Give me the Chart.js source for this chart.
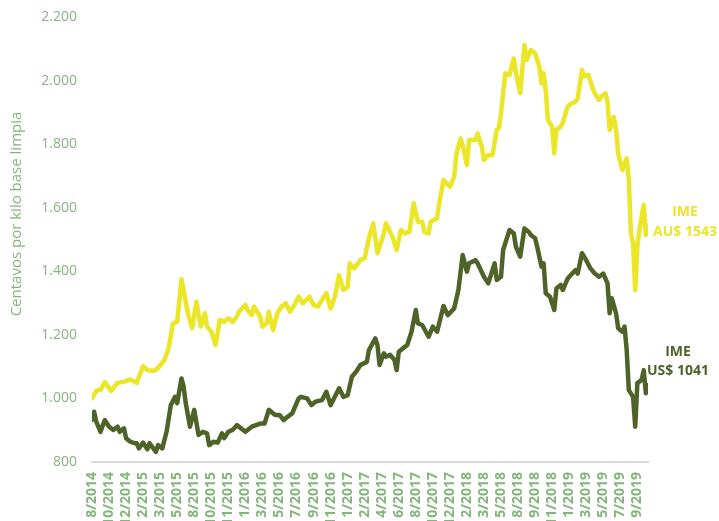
<!DOCTYPE html>
<html>
<head>
<meta charset="utf-8">
<script src="https://cdn.jsdelivr.net/npm/chart.js@4.4.0/dist/chart.umd.min.js"></script>
<style>
  html, body { margin: 0; padding: 0; background: #fff; overflow: hidden; }
</style>
</head>
<body>
<canvas id="ime-chart" width="719" height="521"></canvas>
<script>
// tick labels, one every 8 sale weeks
const tickLabels = ['8/2014', '10/2014', '12/2014', '2/2015', '3/2015', '5/2015', '8/2015', '10/2015',
  '11/2015', '1/2016', '3/2016', '5/2016', '7/2016', '9/2016', '11/2016', '1/2017', '2/2017',
  '4/2017', '6/2017', '8/2017', '10/2017', '12/2017', '2/2018', '3/2018', '5/2018', '8/2018',
  '9/2018', '11/2018', '1/2019', '3/2019', '5/2019', '7/2019', '9/2019'];

// IME in AU cents (week index / value)
const auWeek = [0, 2, 4, 6, 9, 12, 15, 18, 21, 24, 26, 29, 31, 34, 36, 38, 40, 42, 43, 45, 47, 49, 51, 53,
  54, 56, 58, 60, 62, 64, 66, 68, 69, 72, 73, 75, 76, 79, 80, 82, 83, 85, 87, 89, 91, 93, 95, 97, 99,
  102, 104, 106, 108, 110, 112, 114, 116, 118, 120, 121, 123, 126, 128, 130, 132, 134, 137, 138, 141,
  143, 145, 147, 149, 151, 153, 155, 156, 158, 159, 162, 163, 165, 168, 170, 171, 173, 174, 176, 177,
  180, 181, 183, 184, 186, 188, 190, 191, 192, 194, 196, 198, 199, 201, 203, 204, 206, 208, 210, 211,
  212, 213, 214, 216, 217, 218, 220, 221, 223, 224, 227, 228, 230, 231, 233, 235, 236, 238, 239, 241,
  242, 243, 245, 246, 247, 249, 251, 252, 253, 254, 255, 256, 257, 259, 260, 261];
const auValue = [1000, 1024, 1027, 1051, 1024, 1049, 1053, 1060, 1049, 1102, 1089, 1087, 1095, 1121,
  1158, 1236, 1241, 1375, 1341, 1268, 1221, 1304, 1226, 1268, 1226, 1210, 1168, 1247, 1241, 1252, 1241,
  1257, 1273, 1294, 1278, 1262, 1289, 1257, 1226, 1236, 1273, 1215, 1268, 1289, 1299, 1273, 1294, 1320,
  1299, 1320, 1294, 1289, 1310, 1331, 1283, 1320, 1388, 1341, 1351, 1425, 1409, 1435, 1441, 1504, 1551,
  1457, 1519, 1551, 1509, 1467, 1530, 1519, 1524, 1614, 1556, 1556, 1524, 1519, 1556, 1567, 1614, 1687,
  1666, 1697, 1766, 1818, 1797, 1734, 1813, 1813, 1834, 1792, 1750, 1766, 1766, 1845, 1850, 1897, 2023,
  2018, 2070, 2025, 1960, 2112, 2065, 2096, 2086, 2044, 1991, 2023, 1970, 1876, 1855, 1771, 1845, 1855,
  1866, 1913, 1923, 1934, 1944, 2033, 2013, 2018, 1976, 1960, 1939, 1949, 1960, 1934, 1845, 1886, 1845,
  1771, 1719, 1755, 1687, 1519, 1488, 1341, 1477, 1530, 1609, 1514, 1545];

// IME in US cents (week index / value)
const usWeek = [0, 1, 2, 4, 6, 8, 10, 12, 13, 15, 16, 18, 20, 21, 22, 24, 26, 27, 30, 31, 33, 35, 37, 39,
  40, 42, 43, 44, 46, 48, 50, 52, 54, 55, 57, 59, 61, 62, 64, 66, 68, 72, 75, 79, 81, 83, 86, 88, 90,
  92, 94, 97, 98, 101, 103, 105, 108, 110, 112, 114, 116, 118, 120, 122, 124, 126, 129, 130, 133, 134,
  135, 137, 138, 140, 142, 143, 144, 147, 148, 150, 152, 153, 155, 158, 160, 162, 165, 167, 170, 172,
  174, 176, 177, 180, 181, 184, 186, 189, 190, 192, 193, 195, 196, 198, 199, 201, 203, 205, 206, 208,
  209, 211, 212, 213, 215, 217, 218, 220, 221, 223, 224, 227, 228, 230, 232, 234, 236, 238, 240, 242,
  243, 244, 246, 247, 249, 250, 251, 252, 254, 255, 256, 258, 259, 260, 261];
const usValue = [932, 958, 927, 895, 932, 911, 901, 911, 895, 906, 875, 864, 859, 859, 843, 861, 840,
  859, 832, 853, 843, 895, 979, 1005, 985, 1063, 1037, 985, 911, 964, 885, 895, 890, 853, 864, 861, 890,
  875, 895, 901, 916, 895, 911, 921, 921, 964, 948, 948, 932, 943, 953, 1000, 1005, 1000, 979, 990, 995,
  1021, 979, 1005, 1032, 1005, 1010, 1068, 1084, 1105, 1115, 1152, 1189, 1168, 1105, 1142, 1131, 1137,
  1121, 1089, 1147, 1163, 1168, 1210, 1278, 1236, 1231, 1194, 1226, 1210, 1291, 1262, 1283, 1341, 1451,
  1399, 1425, 1435, 1425, 1383, 1362, 1425, 1373, 1383, 1467, 1509, 1530, 1519, 1477, 1446, 1535, 1524,
  1514, 1504, 1477, 1414, 1425, 1331, 1320, 1278, 1346, 1357, 1341, 1373, 1383, 1404, 1393, 1457, 1435,
  1409, 1393, 1383, 1393, 1362, 1268, 1315, 1268, 1221, 1210, 1226, 1152, 1026, 1005, 911, 1048, 1058,
  1089, 1016, 1042];

const yTitle = 'Centavos por kilo base limpia';
const labelGreen = '#84b67c';
const auColor = '#ebe627';
const usColor = '#4f6228';

const toPoints = (xs, ys) => xs.map((x, i) => ({ x: x, y: ys[i] }));

// axis title + end notes
const notesPlugin = {
  id: 'notes',
  afterDraw(chart) {
    const ctx = chart.ctx;
    ctx.save();
    ctx.font = '15px "Open Sans"';
    ctx.fillStyle = labelGreen;
    ctx.textAlign = 'center';
    ctx.textBaseline = 'middle';
    ctx.translate(17, 214);
    ctx.rotate(-Math.PI / 2);
    ctx.fillText(yTitle, 0, 0);
    ctx.restore();

    ctx.save();
    ctx.font = 'bold 14px "Open Sans"';
    ctx.textAlign = 'center';
    ctx.textBaseline = 'middle';
    ctx.fillStyle = auColor;
    ctx.fillText('IME', 685, 212);
    ctx.fillText('AU$ 1543', 685, 232);
    ctx.fillStyle = usColor;
    ctx.fillText('IME', 678, 352);
    ctx.fillText('US$ 1041', 678, 371);
    ctx.restore();
  }
};

const chart = new Chart(document.getElementById('ime-chart'), {
  type: 'line',
  data: {
    datasets: [{
      label: 'IME AU$',
      data: toPoints(auWeek, auValue),
      borderColor: auColor,
      borderWidth: 4.5,
      borderJoinStyle: 'round',
      borderCapStyle: 'round',
      pointRadius: 0,
      tension: 0
    }, {
      label: 'IME US$',
      data: toPoints(usWeek, usValue),
      borderColor: usColor,
      borderWidth: 4.5,
      borderJoinStyle: 'round',
      borderCapStyle: 'round',
      pointRadius: 0,
      tension: 0
    }]
  },
  options: {
    responsive: false,
    animation: false,
    layout: { padding: { top: 17, right: 71, left: 0, bottom: 0 } },
    plugins: { legend: { display: false }, tooltip: { enabled: false } },
    scales: {
      x: {
        type: 'linear',
        min: 0,
        max: 261,
        grid: { display: false, drawTicks: false },
        border: { display: true, color: '#d9d9d9', width: 2 },
        afterBuildTicks: (scale) => {
          scale.ticks = tickLabels.map((t, i) => ({ value: i * 8 }));
        },
        afterFit: (scale) => {
          scale.height = 59;
          scale.paddingLeft = 0;
          scale.paddingRight = 0;
        },
        ticks: {
          autoSkip: false,
          minRotation: 90,
          maxRotation: 90,
          padding: 10,
          color: labelGreen,
          font: { family: 'Open Sans', size: 14, weight: 'bold' },
          callback: (v) => tickLabels[Math.round(v / 8)]
        }
      },
      y: {
        min: 800,
        max: 2200,
        grid: { display: false, drawTicks: false },
        border: { display: false },
        afterFit: (scale) => {
          scale.width = 92;
          scale.paddingTop = 0;
          scale.paddingBottom = 0;
        },
        ticks: {
          stepSize: 200,
          padding: 15,
          color: labelGreen,
          font: { family: 'Open Sans', size: 14 },
          callback: (v) => v.toLocaleString('de-DE')
        }
      }
    }
  },
  plugins: [notesPlugin]
});
</script>
</body>
</html>
